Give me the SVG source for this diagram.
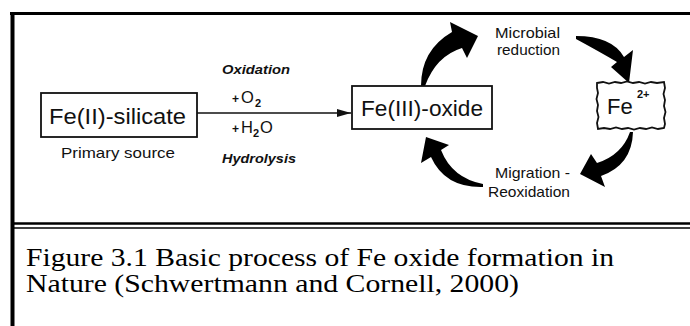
<svg xmlns="http://www.w3.org/2000/svg" width="690" height="326" viewBox="0 0 690 326">
<style>
.frame{stroke:#000;fill:none}
.box{fill:#fff;stroke:#111;stroke-width:1.8}
.sans{font-family:"Liberation Sans",Arial,sans-serif;fill:#111}
.node{font-size:22px}
.lab{font-size:14.5px}
.ital{font-size:13px;font-style:italic;font-weight:bold}
.chem{font-size:16.5px}
.plus{font-size:12px;font-weight:bold}
.sub{font-size:11px;font-weight:bold}
.cap{font-family:"Liberation Serif","Times New Roman",serif;font-size:25px;fill:#000}
.cyc{fill:#000}
</style>
<defs>
<marker id="ah" viewBox="0 0 14 8" refX="14" refY="4" markerWidth="14" markerHeight="8" markerUnits="userSpaceOnUse" orient="auto">
<path d="M0,0 L14,4 L0,8 Z" fill="#111"/>
</marker>
</defs>
<g id="frame">
<line class="frame" x1="10" y1="13.5" x2="690" y2="13.5" stroke-width="3"/>
<line class="frame" x1="12.5" y1="12" x2="12.5" y2="326" stroke-width="4"/>
<line class="frame" x1="12" y1="223.5" x2="690" y2="223.5" stroke-width="2.5"/>
<line class="frame" x1="12" y1="228" x2="690" y2="228" stroke-width="1.5"/>
</g>
<g id="connectors">
<line x1="197" y1="113" x2="351" y2="113" stroke="#111" stroke-width="1.6" marker-end="url(#ah)"/>
<path id="arrow-oxide-to-reduction" class="cyc" d="M421,86 Q421,50 452,32 L450,22 L478,36 L467,58 L462,48 Q436,56 425,86 Z"/>
<path id="arrow-reduction-to-fe2" class="cyc" d="M576,36 Q612,36 624,57 L633,50 L629,83 L611,67 L617,62 Q600,52 576,39 Z"/>
<path id="arrow-fe2-to-migration" class="cyc" d="M633,132 Q632,165 601,176 L605,187 L580,174 L591,154 L597,163 Q622,155 630,132 Z"/>
<path id="arrow-migration-to-oxide" class="cyc" d="M483,187 Q445,188 431,157 L421,163 L426,137 L449,145 L441,150 Q452,178 483,184 Z"/>
</g>
<g id="node-fe2-silicate">
<rect class="box" x="41" y="93" width="156" height="44"/>
<text class="sans node" x="49" y="124" textLength="137" lengthAdjust="spacingAndGlyphs">Fe(II)-silicate</text>
<text class="sans lab" x="61" y="158" textLength="114" lengthAdjust="spacingAndGlyphs">Primary source</text>
</g>
<g id="node-fe3-oxide">
<rect class="box" x="352" y="86" width="140" height="43"/>
<text class="sans node" x="361" y="116" textLength="122" lengthAdjust="spacingAndGlyphs">Fe(III)-oxide</text>
</g>
<g id="node-fe2plus">
<path class="box" stroke-width="2" d="M597,83 L603,82 L609,83.5 L615,82 L621,83 L627,81.5 L633,83 L639,82 L645,83.5 L651,82 L657,83 L664,82 L665,88 L663.5,94 L665,100 L664,106 L665.5,112 L664,118 L665,124 L664,128 L658,129 L652,127.5 L646,129 L640,128 L634,129.5 L628,128 L622,129 L616,127.5 L610,129 L604,128 L598,129 L597,123 L598.5,117 L597,111 L598,105 L596.5,99 L598,93 L597,88 Z"/>
<text class="sans node" x="607" y="114">Fe</text>
<text class="sans" x="637" y="98" font-size="11" font-weight="bold">2+</text>
</g>
<g id="labels">
<text class="sans ital" x="222" y="74" textLength="68" lengthAdjust="spacingAndGlyphs">Oxidation</text>
<text class="sans chem" x="232" y="103"><tspan class="plus">+</tspan><tspan x="241">O</tspan><tspan class="sub" x="255" dy="4">2</tspan></text>
<text class="sans chem" x="232" y="133"><tspan class="plus">+</tspan><tspan x="241">H</tspan><tspan class="sub" x="253" dy="4">2</tspan><tspan x="260" dy="-4">O</tspan></text>
<text class="sans ital" x="222" y="163" textLength="74" lengthAdjust="spacingAndGlyphs">Hydrolysis</text>
<text class="sans lab" x="495" y="38" textLength="65" lengthAdjust="spacingAndGlyphs">Microbial</text>
<text class="sans lab" x="497" y="55" textLength="63" lengthAdjust="spacingAndGlyphs">reduction</text>
<text class="sans lab" x="495" y="178" textLength="75" lengthAdjust="spacingAndGlyphs">Migration -</text>
<text class="sans lab" x="488" y="197" textLength="82" lengthAdjust="spacingAndGlyphs">Reoxidation</text>
</g>
<g id="caption">
<text class="cap" x="26" y="266" textLength="588" lengthAdjust="spacingAndGlyphs">Figure 3.1 Basic process of Fe oxide formation in</text>
<text class="cap" x="26" y="292" textLength="493" lengthAdjust="spacingAndGlyphs">Nature (Schwertmann and Cornell, 2000)</text>
</g>
</svg>
